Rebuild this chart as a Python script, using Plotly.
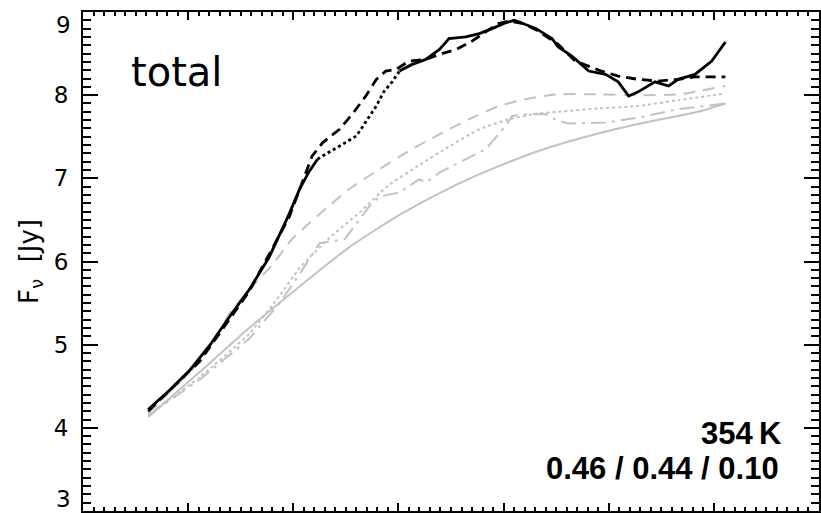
import plotly.graph_objects as go

# ---------------- data (wavelength-like x, flux density in Jy) ----------------
obs_x = [7.62, 7.83, 8.02, 8.21, 8.39, 8.58, 8.77, 8.96, 9.06, 9.15, 9.23,
         9.28, 9.47, 9.60, 9.69, 9.79, 9.86, 9.94, 10.01,
         10.13, 10.26, 10.39, 10.44, 10.48, 10.64, 10.77, 10.89, 11.02, 11.10, 11.15,
         11.31, 11.46, 11.52, 11.65, 11.81, 11.97, 12.09, 12.19, 12.28, 12.44,
         12.57, 12.66, 12.82, 12.98, 13.11]
obs_y = [4.22, 4.46, 4.70, 5.00, 5.33, 5.66, 6.05, 6.57, 6.87, 7.08, 7.23,
         7.27, 7.41, 7.51, 7.68, 7.87, 8.04, 8.16, 8.29,
         8.37, 8.43, 8.55, 8.62, 8.68, 8.70, 8.74, 8.80, 8.87, 8.90, 8.88,
         8.80, 8.68, 8.58, 8.47, 8.29, 8.25, 8.16, 7.99, 8.04, 8.16,
         8.11, 8.19, 8.25, 8.41, 8.64]
gap_lo, gap_hi = 9.23, 10.01

model_x = [7.62, 8.11, 8.58, 8.96, 9.12, 9.18, 9.28, 9.44, 9.56, 9.69, 9.79,
           9.88, 9.98, 10.10, 10.26, 10.39, 10.55, 10.70, 10.83, 10.95, 11.05,
           11.19, 11.33, 11.52, 11.68, 11.93, 12.09, 12.28, 12.47, 12.66, 12.82,
           13.11]
model_y = [4.20, 4.80, 5.64, 6.53, 7.07, 7.27, 7.43, 7.59, 7.77, 7.99, 8.19,
           8.29, 8.31, 8.41, 8.43, 8.49, 8.55, 8.65, 8.76, 8.86, 8.89,
           8.86, 8.77, 8.61, 8.41, 8.29, 8.23, 8.19, 8.17, 8.19, 8.22,
           8.22]

c1_x = [7.62, 8.11, 8.42, 8.61, 8.80, 8.99, 9.25, 9.53, 9.82, 10.10, 10.39,
        10.67, 10.96, 11.24, 11.52, 11.90, 12.28, 12.66, 13.11]
c1_y = [4.18, 4.80, 5.42, 5.70, 5.96, 6.27, 6.57, 6.87, 7.11, 7.33, 7.53,
        7.71, 7.87, 7.96, 8.01, 8.01, 8.00, 8.01, 8.11]

c2_x = [7.62, 8.11, 8.58, 8.87, 9.06, 9.34, 9.63, 9.91, 10.20, 10.48, 10.77,
        11.05, 11.33, 11.52, 11.90, 12.28, 12.66, 13.11]
c2_y = [4.16, 4.61, 5.13, 5.59, 5.92, 6.28, 6.59, 6.92, 7.16, 7.38, 7.59,
        7.71, 7.78, 7.80, 7.84, 7.87, 7.94, 8.02]

c3_x = [7.62, 8.11, 8.58, 8.87, 9.06, 9.25, 9.49, 9.72, 9.82, 10.01, 10.20,
        10.26, 10.39, 10.58, 10.83, 11.02, 11.08, 11.21, 11.40, 11.52, 11.62,
        11.97, 12.28, 12.66, 13.11]
c3_y = [4.15, 4.58, 5.07, 5.50, 5.85, 6.22, 6.27, 6.66, 6.78, 6.83, 6.99,
        6.95, 7.07, 7.19, 7.35, 7.63, 7.75, 7.77, 7.77, 7.69, 7.66,
        7.67, 7.73, 7.83, 7.90]

c4_x = [7.62, 8.11, 8.58, 9.06, 9.53, 10.01, 10.48, 10.96, 11.43, 11.90,
        12.38, 12.85, 13.11]
c4_y = [4.13, 4.67, 5.20, 5.70, 6.17, 6.56, 6.88, 7.15, 7.37, 7.54,
        7.68, 7.80, 7.90]

y_ticks = [3, 4, 5, 6, 7, 8, 9]
label_name = "total"
label_temp = "354\u2009K"
label_frac = "0.46 / 0.44 / 0.10"

# ---------------- figure ----------------
GREY = "#c2c2c2"
TICKFONT = dict(family="DejaVu Sans", size=23, color="black")
fig = go.Figure()

fig.add_trace(go.Scatter(x=c4_x, y=c4_y, mode="lines",
                         line=dict(color=GREY, width=2, shape="spline", smoothing=0.6)))
fig.add_trace(go.Scatter(x=c3_x, y=c3_y, mode="lines",
                         line=dict(color=GREY, width=2, dash="longdashdot")))
fig.add_trace(go.Scatter(x=c2_x, y=c2_y, mode="lines",
                         line=dict(color=GREY, width=2, dash="dot", shape="spline", smoothing=0.6)))
fig.add_trace(go.Scatter(x=c1_x, y=c1_y, mode="lines",
                         line=dict(color=GREY, width=2, dash="12px,8px", shape="spline", smoothing=0.6)))

fig.add_trace(go.Scatter(x=model_x, y=model_y, mode="lines",
                         line=dict(color="black", width=2.8, dash="10px,6px")))

solid_y = [y if (x <= gap_lo or x >= gap_hi) else None for x, y in zip(obs_x, obs_y)]
gap_x = [x for x in obs_x if gap_lo <= x <= gap_hi]
gap_y = [y for x, y in zip(obs_x, obs_y) if gap_lo <= x <= gap_hi]
fig.add_trace(go.Scatter(x=obs_x, y=solid_y, mode="lines", connectgaps=False,
                         line=dict(color="black", width=2.8)))
fig.add_trace(go.Scatter(x=gap_x, y=gap_y, mode="lines",
                         line=dict(color="black", width=2.8, dash="dot")))

fig.add_annotation(text=label_name, xref="paper", yref="paper", x=0.063, y=0.880,
                   xanchor="left", yanchor="middle", showarrow=False,
                   font=dict(family="DejaVu Sans", size=40, color="black"))
fig.add_annotation(text=label_temp, xref="paper", yref="paper", x=0.952, y=0.155,
                   xanchor="right", yanchor="middle", showarrow=False,
                   font=dict(family="Liberation Sans", size=31, color="black", weight="bold"))
fig.add_annotation(text=label_frac, xref="paper", yref="paper", x=0.949, y=0.085,
                   xanchor="right", yanchor="middle", showarrow=False,
                   font=dict(family="Liberation Sans", size=31, color="black", weight="bold"))

# end tick labels (3 and 9) are nudged inward as in the reference
fig.add_annotation(text=str(y_ticks[-1]), xref="paper", yref="y", x=0, y=y_ticks[-1],
                   xanchor="right", yanchor="top", xshift=-10, yshift=2, showarrow=False,
                   font=TICKFONT)
fig.add_annotation(text=str(y_ticks[0]), xref="paper", yref="y", x=0, y=y_ticks[0],
                   xanchor="right", yanchor="bottom", xshift=-10, yshift=-3, showarrow=False,
                   font=TICKFONT)

fig.update_layout(
    width=821, height=513,
    margin=dict(l=83, r=0, t=12, b=2),
    paper_bgcolor="white", plot_bgcolor="white",
    showlegend=False,
    font=dict(family="DejaVu Sans", color="black"),
)
fig.update_xaxes(range=[7, 14], showline=True, linecolor="black", linewidth=2,
                 mirror="ticks", ticks="inside", ticklen=8, tickwidth=2, tickcolor="black",
                 dtick=1, tick0=7, showticklabels=False, showgrid=False, zeroline=False,
                 minor=dict(ticks="inside", ticklen=4, tickwidth=2, tickcolor="black",
                            dtick=0.1, showgrid=False))
fig.update_yaxes(range=[3, 9], showline=True, linecolor="black", linewidth=2,
                 mirror="ticks", ticks="inside", ticklen=15, tickwidth=2, tickcolor="black",
                 tickvals=y_ticks[1:-1], ticktext=[str(v) for v in y_ticks[1:-1]],
                 tickfont=TICKFONT, ticklabelstandoff=8,
                 showgrid=False, zeroline=False,
                 title=dict(text="F<sub>\u03bd</sub>  [Jy]", standoff=8,
                            font=dict(family="DejaVu Sans", size=26, color="black")),
                 minor=dict(ticks="inside", ticklen=8, tickwidth=2, tickcolor="black",
                            dtick=0.1, tick0=3, showgrid=False))

fig.write_html("out.html")
